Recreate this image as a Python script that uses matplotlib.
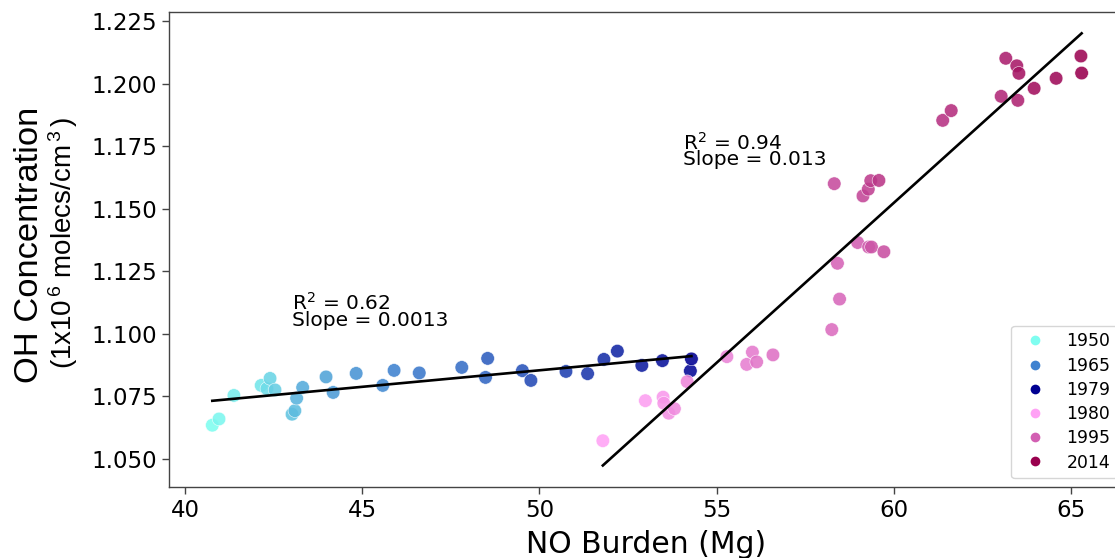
import numpy as np
import matplotlib
matplotlib.use("Agg")
import matplotlib.pyplot as plt
from matplotlib.colors import LinearSegmentedColormap
from matplotlib.lines import Line2D

# ---------------- data ----------------
early_years = list(range(1950, 1980))
early_no = [40.77, 40.96, 41.38, 42.15, 42.31, 42.40, 42.54, 43.02, 43.10, 43.15,
            43.32, 43.98, 44.18, 44.83, 45.58, 45.90, 46.61, 47.81, 48.48, 48.54,
            49.52, 49.76, 50.75, 51.36, 51.82, 52.20, 52.89, 53.47, 54.26, 54.29]
early_oh = [1.0635, 1.0660, 1.0754, 1.0794, 1.0781, 1.0822, 1.0776, 1.0679, 1.0693, 1.0743,
            1.0786, 1.0828, 1.0766, 1.0842, 1.0794, 1.0854, 1.0844, 1.0866, 1.0826, 1.0902,
            1.0853, 1.0814, 1.0850, 1.0841, 1.0898, 1.0931, 1.0874, 1.0893, 1.0852, 1.0900]

late_years = list(range(1980, 2015))
late_no = [51.79, 52.99, 53.49, 53.51, 53.65, 53.81, 54.17, 55.29, 55.85, 56.01,
           56.13, 56.59, 58.25, 58.47, 58.41, 58.98, 59.29, 59.37, 59.72, 58.32,
           59.13, 59.28, 59.35, 59.58, 61.38, 61.62, 63.03, 63.50, 63.16, 63.47,
           63.53, 63.96, 64.58, 65.28, 65.30]
late_oh = [1.0573, 1.0733, 1.0747, 1.0723, 1.0683, 1.0701, 1.0809, 1.0909, 1.0878, 1.0927,
           1.0888, 1.0916, 1.1017, 1.1139, 1.1282, 1.1365, 1.1347, 1.1347, 1.1328, 1.1600,
           1.1551, 1.1578, 1.1612, 1.1613, 1.1853, 1.1892, 1.1949, 1.1933, 1.2101, 1.2071,
           1.2041, 1.1981, 1.2021, 1.2110, 1.2042]

# regression fits (slope, intercept)
early_fit = (0.00132, 1.01944)
late_fit = (0.01278, 0.38554)
early_label = "R$^2$ = 0.62\nSlope = 0.0013"
late_label = "R$^2$ = 0.94\nSlope = 0.013"

legend_years = [1950, 1965, 1979, 1980, 1995, 2014]
x_ticks = [40, 45, 50, 55, 60, 65]
y_ticks = [1.050, 1.075, 1.100, 1.125, 1.150, 1.175, 1.200, 1.225]

# ---------------- style ----------------
plt.rcParams['font.family'] = ['DejaVu Sans']
plt.rcParams['mathtext.fontset'] = 'dejavusans'
plt.rcParams['mathtext.rm'] = 'Liberation Sans'
plt.rcParams['mathtext.it'] = 'Liberation Sans:italic'
plt.rcParams['mathtext.bf'] = 'Liberation Sans:bold'

early_cmap = LinearSegmentedColormap.from_list(
    "early", [(0.0, "#7ffdf0"), (15 / 29, "#3f82d0"), (1.0, "#000092")])
late_cmap = LinearSegmentedColormap.from_list(
    "late", [(0.0, "#ffa2f5"), (15 / 34, "#d25fb2"), (1.0, "#99004e")])


def col_early(y):
    return early_cmap((y - 1950) / 29)


def col_late(y):
    return late_cmap((y - 1980) / 34)


fig = plt.figure(figsize=(11.15, 5.58), dpi=100)
L, R, T, B = 169, 1126, 11.7, 487
ax = fig.add_axes([L / 1115, 1 - B / 558, (R - L) / 1115, (B - T) / 558])

ax.scatter(early_no, early_oh, c=[col_early(y) for y in early_years], s=95,
           alpha=0.88, edgecolors="white", linewidths=0.4, zorder=2)
ax.scatter(late_no, late_oh, c=[col_late(y) for y in late_years], s=95,
           alpha=0.88, edgecolors="white", linewidths=0.4, zorder=2)

for xs, fit in ((early_no, early_fit), (late_no, late_fit)):
    xx = np.array([min(xs), max(xs)])
    ax.plot(xx, fit[0] * xx + fit[1], color="black", lw=1.9, zorder=3)

ax.text(43.01, 1.1033, early_label, fontsize=14.5, va="baseline", ha="left",
        linespacing=0.78)
ax.text(54.04, 1.1673, late_label, fontsize=14.5, va="baseline", ha="left",
        linespacing=0.78)

x0 = 40 - (185 - L) / 35.44
x1 = 40 + (R - 185) / 35.44
ax.set_xlim(x0, x1)
ax.set_ylim(1.050 - (B - 459) / 2503, 1.225 + (21 - T) / 2503)
ax.set_xticks(x_ticks)
ax.set_xticklabels([str(v) for v in x_ticks])
ax.set_yticks(y_ticks)
ax.set_yticklabels([f"{v:.3f}" for v in y_ticks])
ax.tick_params(labelsize=16.5, length=5, width=1, color="#444444")
for s in ax.spines.values():
    s.set_color("#444444")
    s.set_linewidth(1.0)

ax.set_xlabel("NO Burden (Mg)", fontsize=21.5)
ax.xaxis.label.set_va("baseline")
ax.xaxis.set_label_coords(0.4984, (B - 553.3) / (B - T))

ax.set_ylabel("OH Concentration", fontsize=24.8, family="Liberation Sans")
ax.yaxis.label.set_va("baseline")
ax.yaxis.set_label_coords((38.4 - L) / (R - L), (B - 245) / (B - T))
t2 = ax.text((72 - L) / (R - L), (B - 243) / (B - T),
             "(1x10$^{\\,6}$ molecs/cm$^{\\,3}$$\\,$)", transform=ax.transAxes,
             rotation=90, rotation_mode="anchor", ha="center", va="baseline",
             fontsize=20, family="Liberation Sans")
t2.get_fontproperties().set_math_fontfamily("custom")

handles = [Line2D([], [], ls="none", marker="o", markersize=7, markeredgewidth=0,
                  color=(col_early(y) if y < 1980 else col_late(y)))
           for y in legend_years]
ax.legend(handles, [str(y) for y in legend_years], loc="lower right",
          fontsize=12.4, labelspacing=0.36, handletextpad=0.8)

fig.savefig("out.png", dpi=100)
